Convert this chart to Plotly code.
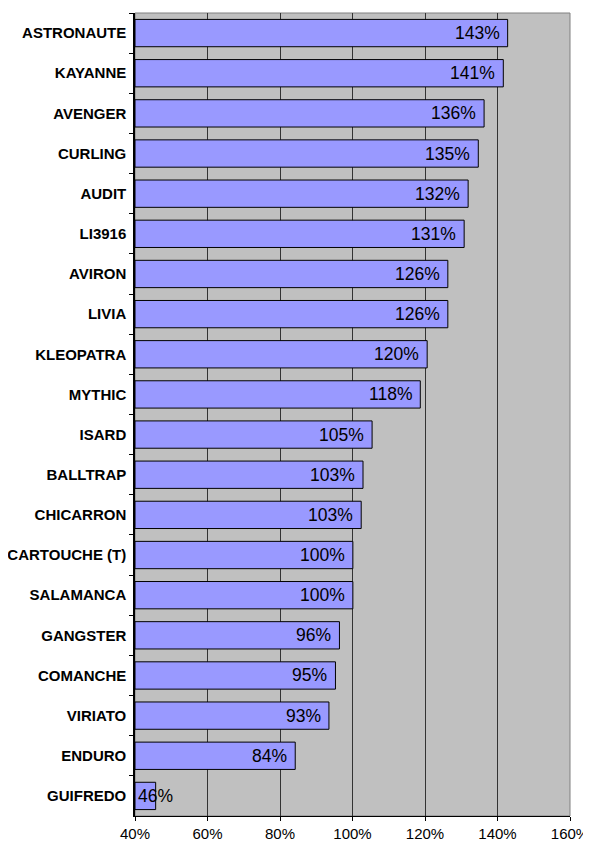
import plotly.graph_objects as go

categories = ["ASTRONAUTE", "KAYANNE", "AVENGER", "CURLING", "AUDIT", "LI3916", "AVIRON",
              "LIVIA", "KLEOPATRA", "MYTHIC", "ISARD", "BALLTRAP", "CHICARRON",
              "CARTOUCHE (T)", "SALAMANCA", "GANGSTER", "COMANCHE", "VIRIATO", "ENDURO", "GUIFREDO"]
values = [142.8, 141.6, 136.3, 134.7, 131.9, 130.8, 126.3, 126.3, 120.6, 118.7,
          105.4, 102.9, 102.4, 100.1, 100.1, 96.4, 95.3, 93.5, 84.2, 45.7]
labels = ["143%", "141%", "136%", "135%", "132%", "131%", "126%", "126%", "120%", "118%",
          "105%", "103%", "103%", "100%", "100%", "96%", "95%", "93%", "84%", "46%"]
x_ticks = [40, 60, 80, 100, 120, 140, 160]
x_ticklabels = ["40%", "60%", "80%", "100%", "120%", "140%", "160%"]
x_min, x_max = 40, 160

FONT = "Arial, 'Liberation Sans', sans-serif"

fig = go.Figure()
fig.add_trace(go.Bar(
    y=categories, x=[v - x_min for v in values], base=x_min, orientation="h",
    marker=dict(color="#9999FF", line=dict(color="#000000", width=1)),
    hoverinfo="skip",
))

annotations = []
for c, v, t in zip(categories, values, labels):
    if v - x_min < 15:
        annotations.append(dict(x=x_min, y=c, xref="x", yref="y", text=t, showarrow=False,
                                xanchor="left", xshift=1, font=dict(family=FONT, size=17.5, color="#000")))
    else:
        annotations.append(dict(x=v, y=c, xref="x", yref="y", text=t, showarrow=False,
                                xanchor="right", xshift=-6, font=dict(family=FONT, size=17.5, color="#000")))

# page body has an 8px default margin: size/margins compensate for it
fig.update_layout(
    width=583, height=835,
    margin=dict(l=127, r=21, t=5, b=27, autoexpand=False),
    paper_bgcolor="#FFFFFF", plot_bgcolor="#C0C0C0",
    bargap=0.32, showlegend=False,
    annotations=annotations,
    shapes=[dict(type="rect", xref="paper", yref="paper", x0=0, y0=0, x1=1, y1=1,
                 line=dict(color="#808080", width=1), layer="below")],
    xaxis=dict(range=[x_min, x_max], tickvals=x_ticks, ticktext=x_ticklabels,
               automargin=False,
               showgrid=True, gridcolor="#333333", gridwidth=1,
               showline=True, linecolor="#000000", linewidth=1,
               ticks="outside", ticklen=4, tickcolor="#000000",
               tickfont=dict(family=FONT, size=15, color="#000"), zeroline=False),
    yaxis=dict(autorange="reversed", categoryorder="array", categoryarray=categories,
               automargin=False,
               showline=True, linecolor="#000000", linewidth=1.5,
               ticks="outside", tickson="boundaries", ticklen=4, tickcolor="#000000",
               showgrid=False, ticklabelstandoff=4,
               tickfont=dict(family=FONT, size=15, color="#000", weight="bold")),
)

fig.write_html("out.html")
